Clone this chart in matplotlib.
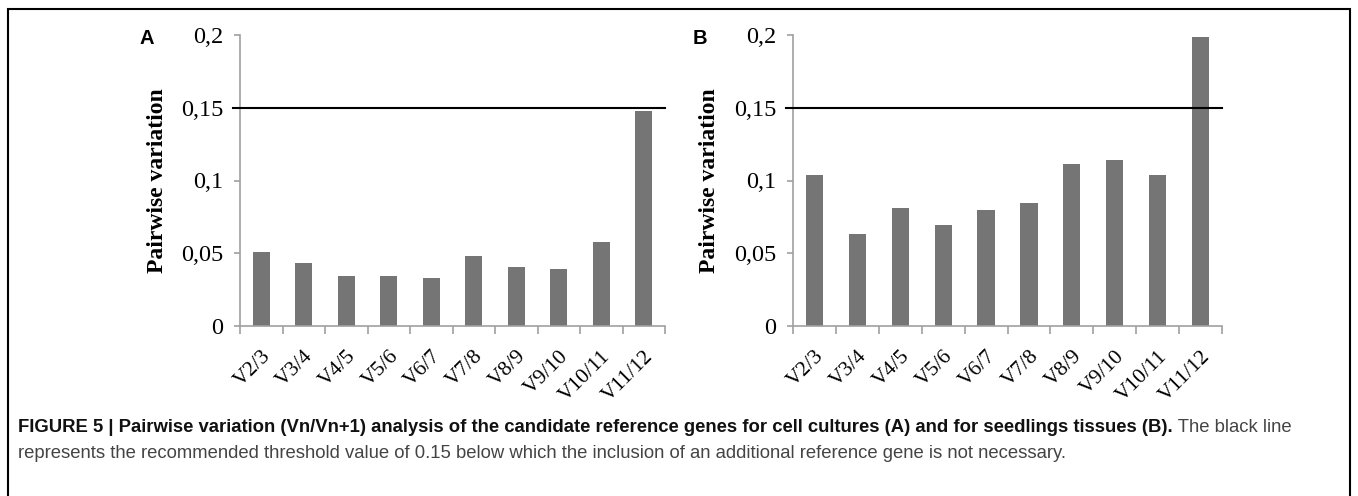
import matplotlib.pyplot as plt
from matplotlib.patches import Rectangle

categories = ["V2/3", "V3/4", "V4/5", "V5/6", "V6/7", "V7/8", "V8/9", "V9/10", "V10/11", "V11/12"]
valuesA = [0.0512, 0.0436, 0.0346, 0.0346, 0.0332, 0.0482, 0.0406, 0.0392, 0.0574, 0.1476]
valuesB = [0.1038, 0.0632, 0.0812, 0.0692, 0.0798, 0.0844, 0.1112, 0.1142, 0.1038, 0.1984]
threshold = 0.15
yticks = [0, 0.05, 0.1, 0.15, 0.2]
yticklabels = ["0", "0,05", "0,1", "0,15", "0,2"]

caption_bold = "FIGURE 5 | Pairwise variation (Vn/Vn+1) analysis of the candidate reference genes for cell cultures (A) and for seedlings tissues (B)."
caption_rest = " The black line"
caption_line2 = "represents the recommended threshold value of 0.15 below which the inclusion of an additional reference gene is not necessary."

serif = "Liberation Serif"
W, H = 1358, 496

fig = plt.figure(figsize=(W / 100, H / 100), dpi=100)


def drawPanel(left, right, values, letter):
    ax = fig.add_axes([left / W, (H - 326) / H, (right - left) / W, 291 / H])
    x = list(range(len(categories)))
    ax.bar(x, values, width=0.4, color="#757575", zorder=2)
    ax.axhline(threshold, xmin=-0.016, xmax=1.0, color="black", lw=1.5, clip_on=False, zorder=3)
    ax.set_xlim(-0.5, len(categories) - 0.5)
    ax.set_ylim(0, 0.2)
    for s in ["top", "right"]:
        ax.spines[s].set_visible(False)
    for s in ["left", "bottom"]:
        ax.spines[s].set_color("#a0a0a0")
        ax.spines[s].set_linewidth(1.2)
    ax.set_yticks(yticks)
    ax.set_yticklabels(yticklabels, fontfamily=serif, fontsize=17.5)
    ax.tick_params(axis="y", direction="out", length=4, color="#a0a0a0", width=1.2, pad=8)
    ax.set_xticks(x)
    ax.set_xticklabels(categories, rotation=45, ha="right", rotation_mode="anchor",
                       fontfamily=serif, fontsize=15.5)
    ax.tick_params(axis="x", which="major", length=0, pad=15)
    ax.set_xticks([i - 0.5 for i in range(len(categories) + 1)], minor=True)
    ax.tick_params(axis="x", which="minor", direction="out", length=6, color="#a0a0a0", width=1.2)
    ax.set_ylabel("Pairwise variation", fontfamily=serif, fontweight="bold", fontsize=17)
    ax.yaxis.set_label_coords(-0.17, 0.5)
    fig.text((left - 93) / W, 1 - 38 / H, letter, fontfamily="Liberation Sans", fontweight="bold",
             fontsize=14.5, ha="center", va="center")
    return ax


drawPanel(240, 665, valuesA, "A")
drawPanel(793, 1222, valuesB, "B")

# frame around the figure
fig.patches.append(Rectangle((8 / W, -0.05), (1350 - 8) / W, 1.05 - 9 / H, transform=fig.transFigure,
                             fill=False, edgecolor="black", lw=1.5))

capfont = "Liberation Sans"
capsize = 10.5
t1 = fig.text(18 / W, 1 - 436 / H, caption_bold, fontfamily=capfont, fontweight="bold",
              fontsize=capsize, va="bottom", ha="left", color="#111111")
t1b = fig.text(0, 0, caption_rest, fontfamily=capfont, fontsize=capsize, color="#444444", va="bottom")
t2 = fig.text(18 / W, 1 - 462 / H, caption_line2, fontfamily=capfont, fontsize=capsize,
              color="#444444", va="bottom", ha="left")

# scale the caption so the first line ends where it does in the figure
fig.canvas.draw()
r = fig.canvas.get_renderer()
w1 = t1.get_window_extent(r).width + t1b.get_window_extent(r).width
scale = (1306 - 18) / w1
for t in [t1, t1b, t2]:
    t.set_fontsize(capsize * scale)
fig.canvas.draw()
bb = t1.get_window_extent(r)
t1b.set_position((bb.x1 / W, bb.y0 / H))

fig.savefig("out.png", dpi=100)
